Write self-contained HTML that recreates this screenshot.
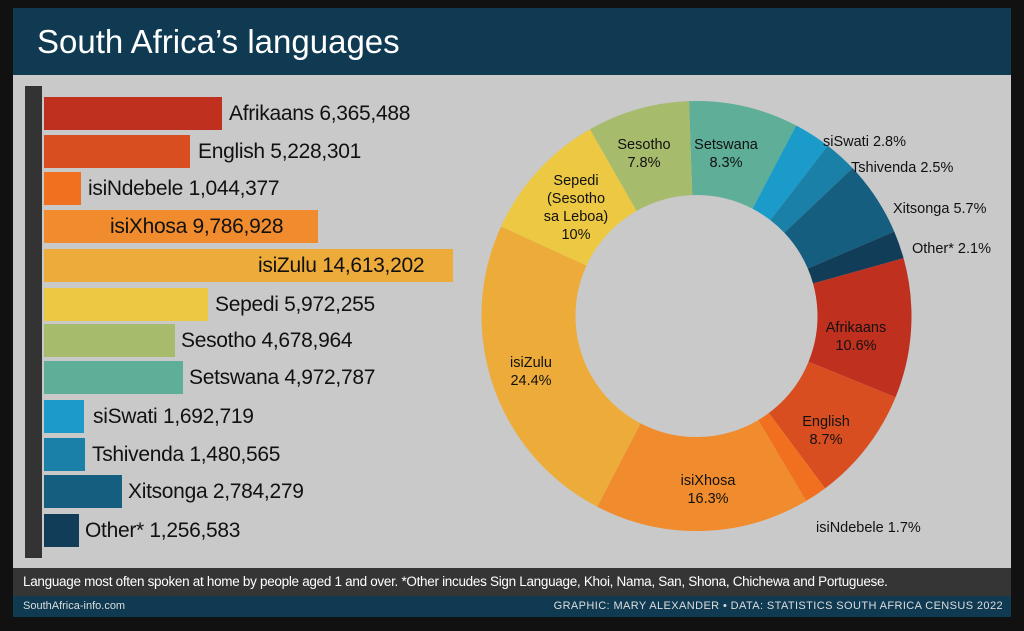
<!DOCTYPE html>
<html><head><meta charset="utf-8"><style>
body{margin:0;width:1024px;height:631px;background:#111;overflow:hidden;font-family:"Liberation Sans",sans-serif}
.card{position:absolute;left:13px;top:8px;width:998px;height:609px;background:#c9c9c9}
.title{position:absolute;left:0;top:0;width:998px;height:67px;background:#0f3a52;color:#fff;font-size:33px;line-height:67px;padding-left:24px;box-sizing:border-box}
.vbar{position:absolute;left:12px;top:78px;width:17px;height:472px;background:#333}
.bar{position:absolute;left:31px;height:33px}
.lbl{position:absolute;font-size:21px;color:#111;line-height:33px;white-space:nowrap;letter-spacing:-0.3px}
.foot{position:absolute;left:0;top:560px;width:998px;height:28px;background:#353535;color:#fff;font-size:13.5px;line-height:28px;padding-left:10px;box-sizing:border-box;letter-spacing:-0.3px}
.foot2{position:absolute;left:0;top:588px;width:998px;height:21px;background:#0f3a52;color:#ddd;font-size:11px;line-height:21px}
svg{position:absolute;left:0;top:0}
</style></head><body><div class="card">
<div class="title">South Africa’s languages</div>
<div class="vbar"></div>
<div class="bar" style="top:89px;width:178px;background:#c0301f"></div><div class="lbl" style="left:216px;top:89px">Afrikaans 6,365,488</div>
<div class="bar" style="top:127px;width:146px;background:#d94e20"></div><div class="lbl" style="left:185px;top:127px">English 5,228,301</div>
<div class="bar" style="top:164px;width:37px;background:#f07020"></div><div class="lbl" style="left:75px;top:164px">isiNdebele 1,044,377</div>
<div class="bar" style="top:202px;width:274px;background:#f08c2e"></div><div class="lbl" style="left:97px;top:202px">isiXhosa 9,786,928</div>
<div class="bar" style="top:241px;width:409px;background:#edac3a"></div><div class="lbl" style="left:245px;top:241px">isiZulu 14,613,202</div>
<div class="bar" style="top:280px;width:164px;background:#ecc843"></div><div class="lbl" style="left:202px;top:280px">Sepedi 5,972,255</div>
<div class="bar" style="top:316px;width:131px;background:#a7bb6d"></div><div class="lbl" style="left:168px;top:316px">Sesotho 4,678,964</div>
<div class="bar" style="top:353px;width:139px;background:#5fae98"></div><div class="lbl" style="left:176px;top:353px">Setswana 4,972,787</div>
<div class="bar" style="top:392px;width:40px;background:#1a9bc9"></div><div class="lbl" style="left:80px;top:392px">siSwati 1,692,719</div>
<div class="bar" style="top:430px;width:41px;background:#1a80a8"></div><div class="lbl" style="left:79px;top:430px">Tshivenda 1,480,565</div>
<div class="bar" style="top:467px;width:78px;background:#155e80"></div><div class="lbl" style="left:115px;top:467px">Xitsonga 2,784,279</div>
<div class="bar" style="top:506px;width:35px;background:#123d58"></div><div class="lbl" style="left:72px;top:506px">Other* 1,256,583</div>
<svg width="998" height="609">
<g transform="translate(683.5,308) rotate(-92)" fill="none" stroke-width="94">
<circle r="168" stroke="#5fae98" stroke-dasharray="86.83 1055.58" stroke-dashoffset="0"/>
<circle r="168" stroke="#1a9bc9" stroke-dasharray="29.29 1055.58" stroke-dashoffset="-86.83"/>
<circle r="168" stroke="#1a80a8" stroke-dasharray="26.15 1055.58" stroke-dashoffset="-116.12"/>
<circle r="168" stroke="#155e80" stroke-dasharray="59.63 1055.58" stroke-dashoffset="-142.27"/>
<circle r="168" stroke="#123d58" stroke-dasharray="21.97 1055.58" stroke-dashoffset="-201.9"/>
<circle r="168" stroke="#c0301f" stroke-dasharray="110.89 1055.58" stroke-dashoffset="-223.87"/>
<circle r="168" stroke="#d94e20" stroke-dasharray="91.02 1055.58" stroke-dashoffset="-334.76"/>
<circle r="168" stroke="#f07020" stroke-dasharray="17.78 1055.58" stroke-dashoffset="-425.78"/>
<circle r="168" stroke="#f08c2e" stroke-dasharray="170.53 1055.58" stroke-dashoffset="-443.56"/>
<circle r="168" stroke="#edac3a" stroke-dasharray="255.27 1055.58" stroke-dashoffset="-614.09"/>
<circle r="168" stroke="#ecc843" stroke-dasharray="104.62 1055.58" stroke-dashoffset="-869.36"/>
<circle r="168" stroke="#a7bb6d" stroke-dasharray="81.6 1055.58" stroke-dashoffset="-973.98"/>
</g>
<g font-family="Liberation Sans,sans-serif" font-size="14.5" fill="#111" text-anchor="middle">
<text x="631" y="141">Sesotho</text><text x="631" y="159">7.8%</text>
<text x="713" y="141">Setswana</text><text x="713" y="159">8.3%</text>
<text x="563" y="177">Sepedi</text><text x="563" y="195">(Sesotho</text><text x="563" y="213">sa Leboa)</text><text x="563" y="231">10%</text>
<text x="518" y="359">isiZulu</text><text x="518" y="377">24.4%</text>
<text x="695" y="477">isiXhosa</text><text x="695" y="495">16.3%</text>
<text x="813" y="418">English</text><text x="813" y="436">8.7%</text>
<text x="843" y="324">Afrikaans</text><text x="843" y="342">10.6%</text>
<g text-anchor="start">
<text x="810" y="138">siSwati 2.8%</text>
<text x="838" y="164">Tshivenda 2.5%</text>
<text x="880" y="205">Xitsonga 5.7%</text>
<text x="899" y="245">Other* 2.1%</text>
<text x="803" y="524">isiNdebele 1.7%</text>
</g></g>
</svg>
<div class="foot">Language most often spoken at home by people aged 1 and over. *Other incudes Sign Language, Khoi, Nama, San, Shona, Chichewa and Portuguese.</div>
<div class="foot2"><span style="position:absolute;left:10px">SouthAfrica-info.com</span><span style="position:absolute;right:8px;letter-spacing:0.4px">GRAPHIC: MARY ALEXANDER • DATA: STATISTICS SOUTH AFRICA CENSUS 2022</span></div>
</div></body></html>
